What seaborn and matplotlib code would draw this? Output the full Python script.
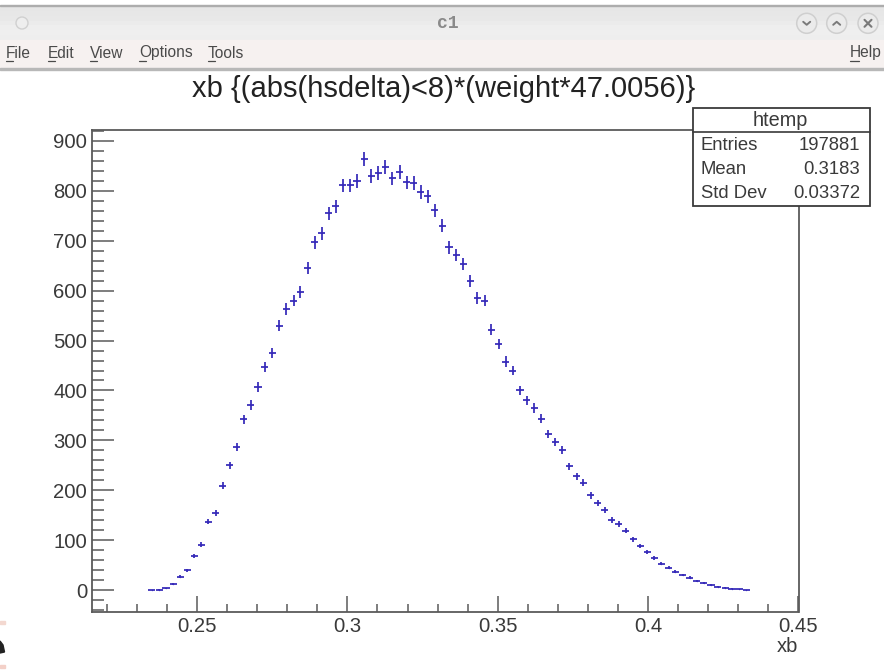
import numpy as np
import matplotlib
matplotlib.use('Agg')
import matplotlib.pyplot as plt
from matplotlib.patches import Rectangle, Circle, Polygon
from matplotlib.ticker import MultipleLocator, FixedFormatter, FixedLocator
import pandas as pd
import seaborn as sns

# bin centres of the histogram
xb = [0.2350, 0.2374, 0.2397, 0.2421, 0.2444, 0.2468, 0.2491, 0.2515, 0.2538, 0.2562,
      0.2585, 0.2609, 0.2632, 0.2656, 0.2679, 0.2703, 0.2726, 0.2750, 0.2774, 0.2797,
      0.2821, 0.2844, 0.2868, 0.2891, 0.2915, 0.2938, 0.2962, 0.2985, 0.3009, 0.3032,
      0.3056, 0.3079, 0.3103, 0.3126, 0.3150, 0.3174, 0.3197, 0.3221, 0.3244, 0.3268,
      0.3291, 0.3315, 0.3338, 0.3362, 0.3385, 0.3409, 0.3432, 0.3456, 0.3479, 0.3503,
      0.3526, 0.3550, 0.3574, 0.3597, 0.3621, 0.3644, 0.3668, 0.3691, 0.3715, 0.3738,
      0.3762, 0.3785, 0.3809, 0.3832, 0.3856, 0.3879, 0.3903, 0.3926, 0.3950, 0.3974,
      0.3997, 0.4021, 0.4044, 0.4068, 0.4091, 0.4115, 0.4138, 0.4162, 0.4185, 0.4209,
      0.4232, 0.4256, 0.4279, 0.4303, 0.4326]

counts = [0, 1, 4, 12, 27, 40, 68, 91, 137, 155, 209, 250, 286, 342, 371, 407,
          447, 475, 530, 563, 580, 597, 645, 697, 715, 755, 769, 811, 811, 820,
          864, 830, 835, 847, 825, 838, 817, 816, 798, 789, 761, 730, 687, 671,
          654, 619, 585, 580, 522, 493, 458, 440, 400, 380, 365, 343, 313, 297,
          281, 248, 228, 215, 190, 175, 161, 140, 132, 119, 102, 88, 76, 64, 53,
          45, 37, 30, 25, 19, 15, 10, 7, 5, 3, 2, 0]

errors = [0.3, 0.5, 1, 1.7, 2.5, 3, 4, 4.6, 5.6, 6, 6.9, 7.6, 8.1, 8.9, 9.2, 9.7,
          10, 10.5, 11, 11.4, 11.5, 11.7, 12.2, 12.7, 12.8, 13.2, 13.3, 13.7, 13.7, 13.7,
          14, 13.8, 13.9, 14, 13.8, 13.9, 13.7, 13.7, 13.5, 13.5, 13.2, 13, 12.6, 12.4,
          12.3, 11.9, 11.6, 11.5, 11, 10.6, 10.3, 10, 9.6, 9.3, 9.2, 8.9, 8.5, 8.3,
          8, 7.6, 7.2, 7, 6.6, 6.3, 6.1, 5.7, 5.5, 5.2, 4.8, 4.5, 4.2, 3.8, 3.5,
          3.2, 2.9, 2.6, 2.4, 2.1, 1.9, 1.5, 1.3, 1.1, 0.8, 0.7, 0.3]

bin_width = 0.002353

x_ticks = [0.25, 0.3, 0.35, 0.4, 0.45]
x_labels = ['0.25', '0.3', '0.35', '0.4', '0.45']
y_ticks = [0, 100, 200, 300, 400, 500, 600, 700, 800, 900]

stats_names = ['Entries', 'Mean', 'Std Dev']
stats_values = ['197881', '0.3183', '0.03372']
menu_items = [('File', 6), ('Edit', 48), ('View', 90), ('Options', 139), ('Tools', 208)]

sns.set_style('white')
plt.rcParams['font.family'] = ['Liberation Sans', 'DejaVu Sans']

W, H = 884, 670
txt = '#3a3a3a'
line = '#5a5a5a'
blue = '#3428b8'

fig = plt.figure(figsize=(W / 100, H / 100), dpi=100, facecolor='white')

# window frame drawn in pixel coordinates
bg = fig.add_axes([0, 0, 1, 1], zorder=0)
grad = np.array([[0.90], [0.905], [0.91], [0.92], [0.93], [0.935], [0.93]])
bg.imshow(grad, extent=[0, W, 40, 6], aspect='auto', cmap='gray', vmin=0, vmax=1, zorder=1)
bg.set_xlim(0, W)
bg.set_ylim(H, 0)
bg.axis('off')
bg.add_patch(Rectangle((0, 4.5), W, 1.5, color='#adadad', zorder=2))
bg.add_patch(Rectangle((0, 40), W, 28, color='#f6f1f0', zorder=2))
bg.add_patch(Rectangle((0, 68), W, 2, color='#b8b8b8', zorder=2))
bg.add_patch(Circle((22, 23), 6, fc='#eeeeee', ec='#d0d0d0', lw=1, zorder=3))
bg.text(448, 24, 'c1', family='Liberation Mono', fontweight='bold', fontsize=13,
        color='#8a8a8a', ha='center', va='center', zorder=3)
for cx in [806.7, 836.7, 868]:
    bg.add_patch(Circle((cx, 23.3), 10, fc='#ebebeb', ec='#cfcfcf', lw=1.1, zorder=3))
for cx, pts in [(806.7, [(-3.5, -1.5), (0, 1.5), (3.5, -1.5)]), (836.7, [(-3.5, 1.5), (0, -1.5), (3.5, 1.5)])]:
    bg.plot([cx + p[0] for p in pts], [23.3 + p[1] for p in pts], color='#7a7a7a', lw=1.4, zorder=4)
bg.plot([864.5, 871.5], [19.8, 26.8], color='#7a7a7a', lw=1.5, zorder=4)
bg.plot([864.5, 871.5], [26.8, 19.8], color='#7a7a7a', lw=1.5, zorder=4)
for name, px in menu_items:
    bg.text(px, 53, name, fontsize=11.2, color='#4a4a4a', ha='left', va='center', zorder=3)
    bg.plot([px, px + 7], [61, 61], color='#4a4a4a', lw=0.9, zorder=3)
bg.text(882, 53, 'Help', fontsize=11.2, color='#4a4a4a', ha='right', va='center', zorder=3)
bg.plot([850, 859], [61, 61], color='#4a4a4a', lw=0.9, zorder=3)

# logo fragment on the lower left edge
bg.add_patch(Polygon([(0, 641), (3, 645), (4.5, 652), (0, 653)], closed=True, color='#222222', zorder=2))
bg.add_patch(Rectangle((0, 621), 5, 3, color='#f3d8d0', zorder=2))
bg.add_patch(Rectangle((0, 665), 5, 3, color='#f3d0c8', zorder=2))

bg.text(444, 89, 'xb {(abs(hsdelta)<8)*(weight*47.0056)}', fontsize=21, color='#222222',
        ha='center', va='center', zorder=3)

# plot frame
ax = fig.add_axes([92 / W, 1 - 611.5 / H, (798.5 - 92) / W, (611.5 - 129.5) / H], zorder=2)
ax.patch.set_alpha(0)
data = pd.DataFrame({'xb': xb, 'counts': counts})
sns.scatterplot(data=data, x='xb', y='counts', s=1, color=blue, linewidth=0, ax=ax, zorder=3)
ax.errorbar(xb, counts, yerr=errors, xerr=bin_width / 2, fmt='none', ecolor=blue,
            elinewidth=1.25, capsize=0, zorder=3)

ax.set_xlim(0.2151, 0.45)
ax.set_ylim(-43, 923)
ax.set_xlabel('')
ax.set_ylabel('')
ax.xaxis.set_major_locator(FixedLocator(x_ticks))
ax.xaxis.set_major_formatter(FixedFormatter(x_labels))
ax.xaxis.set_minor_locator(MultipleLocator(0.01))
ax.yaxis.set_major_locator(FixedLocator(y_ticks))
ax.yaxis.set_minor_locator(MultipleLocator(20))
ax.tick_params(axis='x', which='major', direction='in', length=11.5, width=1.1, color=line,
               labelsize=14.6, labelcolor=txt, pad=4, bottom=True)
ax.tick_params(axis='x', which='minor', direction='in', length=5.8, width=1.1, color=line, bottom=True)
ax.tick_params(axis='y', which='major', direction='in', length=16, width=1.1, color=line,
               labelsize=14.6, labelcolor=txt, pad=3.5, left=True)
ax.tick_params(axis='y', which='minor', direction='in', length=8.6, width=1.1, color=line, left=True)
for s in ax.spines.values():
    s.set_color(line)
    s.set_linewidth(1.3)

# stats box on top
fg = fig.add_axes([0, 0, 1, 1], zorder=3)
fg.set_xlim(0, W)
fg.set_ylim(H, 0)
fg.axis('off')
fg.add_patch(Rectangle((692.5, 108), 177, 98, fc='white', ec='#3a3a3a', lw=1.3))
fg.plot([692.5, 869.5], [132, 132], color='#3a3a3a', lw=1.2)
fg.text(780, 120.5, 'htemp', fontsize=14.3, color=txt, ha='center', va='center')
for name, value, py in zip(stats_names, stats_values, [145.5, 169.5, 193.5]):
    fg.text(701, py, name, fontsize=13.3, color=txt, ha='left', va='center')
    fg.text(860, py, value, fontsize=13.3, color=txt, ha='right', va='center')
fg.text(798, 647, 'xb', fontsize=14.5, color=txt, ha='right', va='center')

fig.savefig('out.png', dpi=100)
